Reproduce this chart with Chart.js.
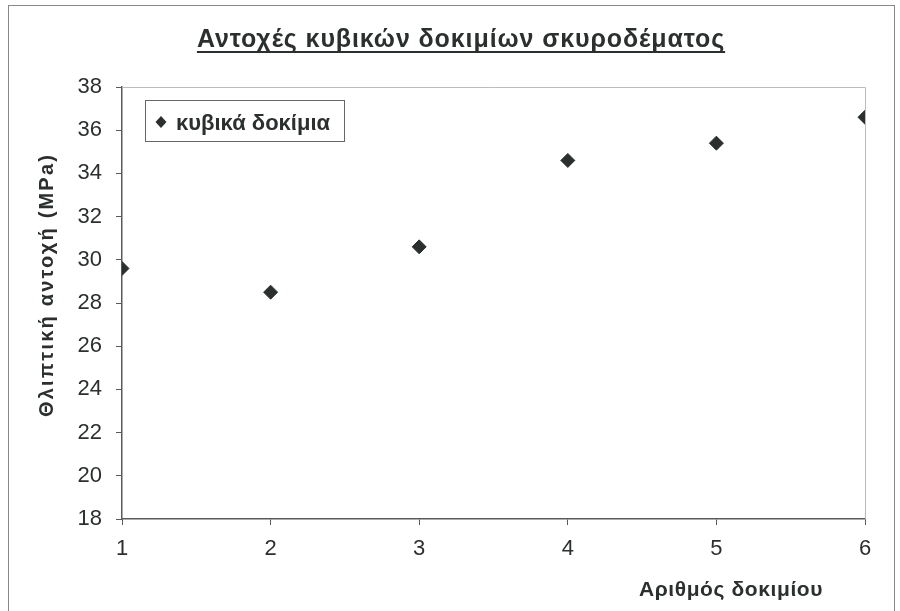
<!DOCTYPE html>
<html>
<head>
<meta charset="utf-8">
<script src="https://cdn.jsdelivr.net/npm/chart.js@4"></script>
<style>
  html, body { margin: 0; padding: 0; background: #fff; }
  #wrap { width: 900px; height: 611px; }
</style>
</head>
<body>
<div id="wrap"><canvas id="myChart" width="900" height="611"></canvas></div>
<script>
// data
const specimens = [1, 2, 3, 4, 5, 6];
const strength = [29.6, 28.5, 30.6, 34.6, 35.4, 36.6];
const xTicks = [1, 2, 3, 4, 5, 6];
const yTicks = [18, 20, 22, 24, 26, 28, 30, 32, 34, 36, 38];

const titleText = "Αντοχές κυβικών δοκιμίων σκυροδέματος";
const yTitle = "Θλιπτική αντοχή (MPa)";
const xTitle = "Αριθμός δοκιμίου";
const legendText = "κυβικά δοκίμια";

const ink = "#2b302e";
const axisColor = "#5a5a5a";
const sans = "'Liberation Sans', Arial, sans-serif";
const tickFont = { family: sans, size: 22 };

const decorations = {
    id: "decorations",
    afterDraw: (chart) => {
        const ctx = chart.ctx;
        const a = chart.chartArea;
        ctx.save();

        // outer frame
        ctx.strokeStyle = "#888";
        ctx.lineWidth = 1;
        ctx.strokeRect(8.5, 5.5, 886, 610);

        // light top / right edges of plot
        ctx.strokeStyle = "#bbb";
        ctx.beginPath();
        ctx.moveTo(a.left, a.top + 0.5);
        ctx.lineTo(a.right + 0.5, a.top + 0.5);
        ctx.lineTo(a.right + 0.5, a.bottom);
        ctx.stroke();

        // title
        ctx.fillStyle = ink;
        ctx.font = "bold 25px " + sans;
        ctx.letterSpacing = "0.9px";
        ctx.textAlign = "center";
        ctx.textBaseline = "alphabetic";
        const tx = 461, ty = 47;
        ctx.fillText(titleText, tx, ty);
        const tw = ctx.measureText(titleText).width;
        ctx.fillRect(tx - tw / 2, ty + 4, tw, 2);

        // y axis title
        ctx.font = "bold 20px " + sans;
        ctx.letterSpacing = "2.2px";
        ctx.save();
        ctx.translate(53, 285);
        ctx.rotate(-Math.PI / 2);
        ctx.textAlign = "center";
        ctx.textBaseline = "alphabetic";
        ctx.fillText(yTitle, 0, 0);
        ctx.restore();

        // x axis title
        ctx.font = "bold 21px " + sans;
        ctx.letterSpacing = "0.6px";
        ctx.textAlign = "center";
        ctx.textBaseline = "alphabetic";
        ctx.fillText(xTitle, 731, 596);

        // legend box
        ctx.letterSpacing = "0px";
        ctx.strokeStyle = "#666";
        ctx.lineWidth = 1;
        ctx.strokeRect(145.5, 100.5, 199, 41);
        ctx.fillStyle = ink;
        ctx.beginPath();
        ctx.moveTo(161, 116);
        ctx.lineTo(166.5, 122);
        ctx.lineTo(161, 128);
        ctx.lineTo(155.5, 122);
        ctx.closePath();
        ctx.fill();
        ctx.font = "bold 22px " + sans;
        ctx.textAlign = "left";
        ctx.fillText(legendText, 176, 130);

        ctx.restore();
    }
};

new Chart(document.getElementById("myChart"), {
    type: "scatter",
    data: {
        datasets: [{
            label: legendText,
            data: specimens.map((s, i) => ({ x: s, y: strength[i] })),
            pointStyle: "rectRot",
            pointRadius: 7,
            pointHoverRadius: 7,
            backgroundColor: ink,
            borderColor: ink,
            borderWidth: 1
        }]
    },
    options: {
        responsive: false,
        animation: false,
        layout: { padding: { top: 87, right: 35, bottom: 0, left: 0 } },
        plugins: {
            legend: { display: false },
            tooltip: { enabled: false }
        },
        scales: {
            x: {
                type: "linear",
                min: 1,
                max: 6,
                afterBuildTicks: (s) => { s.ticks = xTicks.map(v => ({ value: v })); },
                afterFit: (s) => { s.height = 92; },
                grid: { drawOnChartArea: false, color: axisColor, tickLength: 6 },
                border: { color: axisColor, width: 1.5 },
                ticks: { color: ink, font: tickFont, padding: 11 }
            },
            y: {
                min: 18,
                max: 38,
                afterBuildTicks: (s) => { s.ticks = yTicks.map(v => ({ value: v })); },
                afterFit: (s) => { s.width = 122; },
                grid: { drawOnChartArea: false, color: axisColor, tickLength: 6 },
                border: { color: axisColor, width: 1.5 },
                ticks: { color: ink, font: tickFont, padding: 14 }
            }
        }
    },
    plugins: [decorations]
});
</script>
</body>
</html>
